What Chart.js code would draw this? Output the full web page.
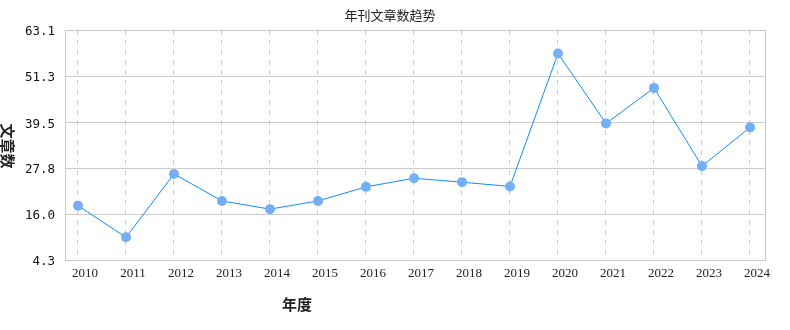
<!DOCTYPE html>
<html>
<head>
<meta charset="utf-8">
<script src="https://cdn.jsdelivr.net/npm/chart.js@4/dist/chart.umd.min.js"></script>
<style>
  html, body { margin: 0; padding: 0; background: #fff; }
  #wrap { width: 790px; height: 330px; position: relative; }
</style>
</head>
<body>
<div id="wrap"><canvas id="chartTrend"></canvas></div>
<script>
// =========================
// DATA
// =========================
const years = [2010, 2011, 2012, 2013, 2014, 2015, 2016, 2017, 2018, 2019, 2020, 2021, 2022, 2023, 2024];
const articleCounts = [18.2, 10.1, 26.3, 19.4, 17.3, 19.4, 23.0, 25.2, 24.2, 23.1, 57.1, 39.2, 48.3, 28.3, 38.2];
const yTicks = [4.3, 16.0, 27.8, 39.5, 51.3, 63.1];

const chartTitle = "年刊文章数趋势";
const xTitle = "年度";
const yTitle = "文章数";

// =========================
// EXTRA DRAWING: frame + titles
// =========================
const decorPlugin = {
    id: "decor",
    beforeDatasetsDraw(chart) {
        const c = chart.ctx, a = chart.chartArea;
        c.save();
        c.strokeStyle = "#c8c8c8";
        c.lineWidth = 1;
        c.strokeRect(Math.round(a.left) + 0.5, Math.round(a.top) + 0.5,
            Math.round(a.right - a.left), Math.round(a.bottom - a.top));
        c.restore();
    },
    afterDraw(chart) {
        const c = chart.ctx;
        c.save();
        c.fillStyle = "#222";
        c.textAlign = "center";
        c.textBaseline = "middle";

        c.font = "13px 'Noto Sans CJK SC'";
        c.fillText(chartTitle, 390, 15);

        c.font = "bold 15px 'Noto Sans CJK SC'";
        c.fillText(xTitle, 297, 304);

        c.translate(8, 146);
        c.rotate(Math.PI / 2);
        c.fillText(yTitle, 0, 0);
        c.restore();
    }
};

new Chart(document.getElementById("chartTrend"), {
    type: "line",
    data: {
        datasets: [{
            label: yTitle,
            data: years.map((y, i) => ({ x: y, y: articleCounts[i] })),
            borderColor: "#0f8aff",
            borderWidth: 1,
            backgroundColor: "#74aef4",
            pointBackgroundColor: "#74aef4",
            pointBorderWidth: 0,
            pointRadius: 5,
            fill: false,
            tension: 0
        }]
    },
    plugins: [decorPlugin],
    options: {
        responsive: true,
        maintainAspectRatio: false,
        animation: false,
        layout: { padding: { top: 30, right: 25, left: 0, bottom: 0 } },
        plugins: {
            legend: { display: false },
            title: { display: false },
            tooltip: { enabled: false }
        },
        scales: {
            x: {
                type: "linear",
                min: 2010 - 13 / 48,
                max: 2024 + 15 / 48,
                afterBuildTicks: s => { s.ticks = years.map(v => ({ value: v })); },
                afterFit: s => { s.height = 70; },
                border: { display: false, dash: [5, 5] },
                grid: {
                    color: "#cccccc",
                    drawTicks: false
                },
                ticks: {
                    autoSkip: false,
                    maxRotation: 0,
                    padding: 6,
                    labelOffset: 7,
                    color: "#222",
                    font: { family: "'Liberation Serif'", size: 13 },
                    callback: v => String(v)
                }
            },
            y: {
                min: yTicks[0],
                max: yTicks[yTicks.length - 1],
                afterBuildTicks: s => { s.ticks = yTicks.map(v => ({ value: v })); },
                afterFit: s => { s.width = 65; },
                border: { display: false },
                grid: { color: "#cccccc", drawTicks: false },
                ticks: {
                    padding: 10,
                    labelOffset: 2,
                    color: "#111",
                    font: { family: "'DejaVu Sans Mono'", size: 12.5 },
                    callback: v => Number(v).toFixed(1)
                }
            }
        }
    }
});
</script>
</body>
</html>
